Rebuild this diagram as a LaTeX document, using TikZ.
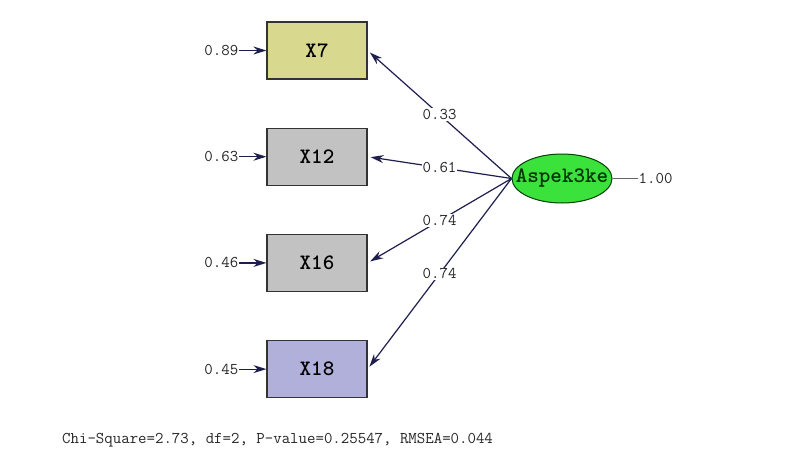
\documentclass[tikz,border=0pt]{standalone}
\usetikzlibrary{arrows.meta,positioning,shapes.geometric}

\definecolor{boxyellow}{HTML}{D8D88E}
\definecolor{boxgray}{HTML}{C2C2C2}
\definecolor{boxblue}{HTML}{B0B0DA}
\definecolor{latgreen}{HTML}{3CE23C}
\definecolor{pathblue}{HTML}{1E1E4E}

\begin{document}
\begin{tikzpicture}[x=1pt,y=1pt,node distance=48pt,
        obs/.style={draw=black!80,line width=1.2pt,minimum width=100pt,
          minimum height=57pt,font=\ttfamily\bfseries\fontsize{22}{23}\selectfont},
        lat/.style={ellipse,draw=green!25!black,fill=latgreen,line width=1pt,
          minimum width=100pt,minimum height=49pt,inner xsep=-11pt,inner ysep=0pt,
          text=green!20!black,font=\ttfamily\bfseries\fontsize{22}{23}\selectfont},
        num/.style={font=\ttfamily\fontsize{16.4}{18}\selectfont,inner sep=1pt,text=black!85},
        load/.style={num,fill=white},
        path/.style={draw=pathblue,line width=1.2pt,
          -{Stealth[length=13pt,width=8pt]}}]

  \useasboundingbox[fill=white] (0,0) rectangle (806,-461);

  \node[obs,fill=boxyellow] (x7) at (317,-50.5) {X7};
  \node[obs,fill=boxgray] (x12) [below=of x7] {X12};
  \node[obs,fill=boxgray] (x16) [below=of x12] {X16};
  \node[obs,fill=boxblue] (x18) [below=of x16] {X18};
  \node[lat] (asp) at (562,-178.5) {Aspek3ke};

  \node[num] (e7) [left=27pt of x7] {0.89};
  \node[num] (e12) [left=27pt of x12] {0.63};
  \node[num] (e16) [left=27pt of x16] {0.46};
  \node[num] (e18) [left=27pt of x18] {0.45};
  \node[num] (res) [right=25pt of asp] {1.00};

  \draw[path] (e7) -- (x7);
  \draw[path] (e12) -- (x12);
  \draw[path] (e16) -- (x16);
  \draw[path] (e18) -- (x18);

  \draw[path,shorten >=3pt] (asp.west) -- node[load] {0.33} (x7.east);
  \draw[path,shorten >=3pt] (asp.west) -- node[load] {0.61} (x12.east);
  \draw[path,shorten >=3pt] (asp.west) -- node[load] {0.74} (x16.east);
  \draw[path,shorten >=3pt] (asp.west) -- node[load] {0.74} (x18.east);

  \draw[draw=black!60,line width=0.6pt] (asp) -- (res);

  \node[num,anchor=west] (fit) at (61,-440)
    {Chi-Square=2.73, df=2, P-value=0.25547, RMSEA=0.044};

\end{tikzpicture}
\end{document}
